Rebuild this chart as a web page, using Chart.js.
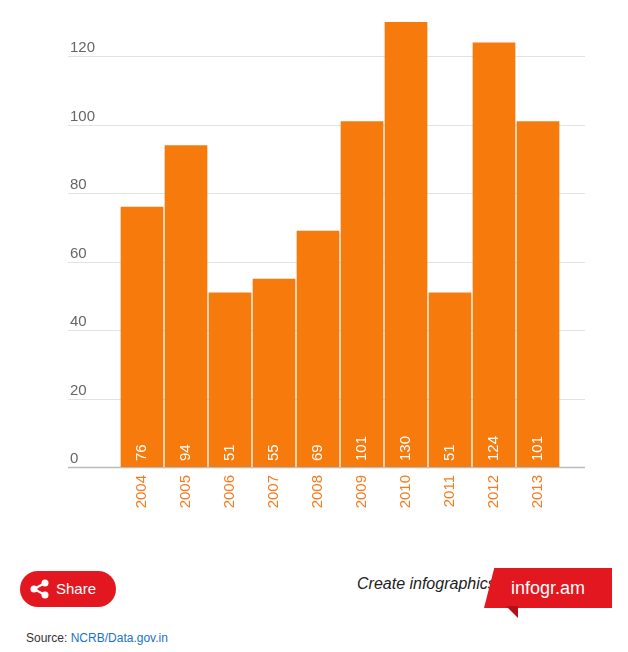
<!DOCTYPE html>
<html>
<head>
<meta charset="utf-8">
<script src="https://cdn.jsdelivr.net/npm/chart.js@4"></script>
<style>
  body { margin: 0; width: 628px; height: 652px; background: #fff; font-family: Arial, "Liberation Sans", sans-serif; position: relative; overflow: hidden; }
  #wrap { position: absolute; left: 0; top: 0; width: 628px; height: 530px; }
  .share { position: absolute; left: 20px; top: 571px; width: 96px; height: 36px; background: #e3171f; border-radius: 18px; color: #fff; font-size: 15px; line-height: 36px; }
  .share span { position: absolute; left: 36px; }
  .create { position: absolute; left: 357px; top: 575px; font-style: italic; font-size: 16px; color: #222; font-family: "Liberation Sans Narrow", Arial, sans-serif; }
  .badge { position: absolute; left: 484px; top: 568px; width: 128px; height: 40px; background: #e3171f; color: #fff; font-size: 18px; line-height: 40px; text-align: center; clip-path: polygon(8% 0, 100% 0, 100% 100%, 0 100%); }
  .tail { position: absolute; left: 506px; top: 606px; width: 0; height: 0; border-top: 12px solid #b30f16; border-left: 12px solid transparent; }
  .src { position: absolute; left: 26px; top: 631px; font-size: 12px; color: #333; }
  .src a { color: #1a73c8; text-decoration: none; }
</style>
</head>
<body>
<div id="wrap"><canvas id="c"></canvas></div>
<div class="share">
  <svg width="22" height="22" viewBox="0 0 22 22" style="position:absolute;left:9px;top:7px">
    <circle cx="16" cy="5" r="3.5" fill="#fff"/><circle cx="5" cy="11" r="3.5" fill="#fff"/><circle cx="16" cy="17" r="3.5" fill="#fff"/>
    <line x1="16" y1="5" x2="5" y2="11" stroke="#fff" stroke-width="2"/><line x1="5" y1="11" x2="16" y2="17" stroke="#fff" stroke-width="2"/>
  </svg>
  <span>Share</span>
</div>
<div class="create">Create infographics</div>
<div class="badge">infogr.am</div>
<div class="tail"></div>
<div class="src">Source: <a href="#">NCRB/Data.gov.in</a></div>
<script>
const years = ["2004", "2005", "2006", "2007", "2008", "2009", "2010", "2011", "2012", "2013"];
const values = [76, 94, 51, 55, 69, 101, 130, 51, 124, 101];
const yTicks = [0, 20, 40, 60, 80, 100, 120];

const narrow = '"Liberation Sans Narrow", "Liberation Sans", Arial, sans-serif';

const decor = {
  id: "decor",
  beforeDatasetsDraw(chart) {
    const c = chart.ctx, y = chart.scales.y;
    c.save();
    c.font = "15px " + narrow;
    c.fillStyle = "#666";
    c.textBaseline = "bottom";
    yTicks.forEach(t => {
      const py = Math.round(y.getPixelForValue(t)) + 0.5;
      c.strokeStyle = t === 0 ? "#bbb" : "#e2e2e2";
      c.lineWidth = t === 0 ? 1.5 : 1;
      c.beginPath(); c.moveTo(68, py); c.lineTo(585, py); c.stroke();
      c.fillText(String(t), 70, py - 1);
    });
    c.restore();
  },
  afterDatasetsDraw(chart) {
    const c = chart.ctx, x = chart.scales.x, y = chart.scales.y;
    const base = y.getPixelForValue(0);
    c.save();
    c.font = "15px " + narrow;
    years.forEach((yr, i) => {
      const px = x.getPixelForValue(i);
      c.save();
      c.translate(px, base + 8);
      c.rotate(-Math.PI / 2);
      c.textAlign = "right"; c.textBaseline = "middle";
      c.fillStyle = "#f47b20";
      c.fillText(yr, 0, 0);
      c.restore();
      c.save();
      c.translate(px, base - 6);
      c.rotate(-Math.PI / 2);
      c.textAlign = "left"; c.textBaseline = "middle";
      c.fillStyle = "#fff";
      c.fillText(String(values[i]), 0, 0);
      c.restore();
    });
    c.restore();
  }
};

new Chart(document.getElementById("c"), {
  type: "bar",
  data: {
    labels: years,
    datasets: [{ data: values, backgroundColor: "#f77a0c", barPercentage: 1, categoryPercentage: 0.97 }]
  },
  options: {
    responsive: true,
    maintainAspectRatio: false,
    animation: false,
    layout: { padding: { left: 120, right: 68, top: 22, bottom: 63 } },
    plugins: { legend: { display: false }, tooltip: { enabled: false } },
    scales: {
      x: { display: false },
      y: { display: false, min: 0, max: 130 }
    }
  },
  plugins: [decor]
});
</script>
</body>
</html>
